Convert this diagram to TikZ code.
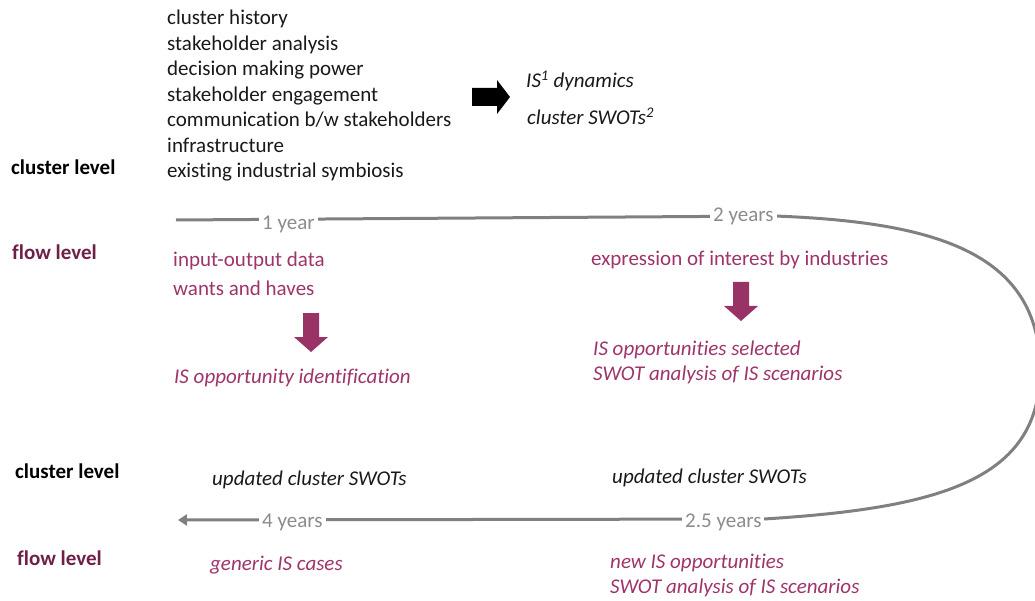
\documentclass[tikz,border=0pt]{standalone}
\usepackage{fontspec}
\setmainfont{Carlito}[Ligatures=CommonOff]
\usetikzlibrary{arrows.meta}

\definecolor{plum}{RGB}{158,52,106}
\definecolor{plumdark}{RGB}{110,32,72}
\definecolor{plumarrow}{RGB}{153,51,102}
\definecolor{linegray}{RGB}{128,128,128}
\definecolor{labelgray}{RGB}{140,140,140}

\tikzset{
  txt/.style={anchor=base west, inner sep=0pt, font=\fontsize{21}{25}\selectfont, text=black!90},
  plumtxt/.style={txt, text=plum},
  itxt/.style={txt, font=\fontsize{21}{25}\selectfont\itshape},
  iplum/.style={itxt, text=plum},
  levelclu/.style={txt, font=\fontsize{21}{25}\selectfont\bfseries, text=black},
  levelflow/.style={txt, font=\fontsize{21}{25}\selectfont\bfseries, text=plumdark},
  timelabel/.style={anchor=base west, fill=white, inner xsep=3pt, inner ysep=2pt,
    font=\fontsize{21}{25}\selectfont, text=labelgray},
  timeline/.style={draw=linegray, line width=3pt},
  downblock/.pic={
    \fill[plumarrow] (-8,0) -- (8,0) -- (8,24) -- (17,24) -- (0,39) -- (-17,24) -- (-8,24) -- cycle;
  }
}

\begin{document}
\begin{tikzpicture}[x=1pt, y=-1pt]
\useasboundingbox (0,0) rectangle (1035,601);

% cluster-level factors
\node[txt] (f1) at (167,25)  {cluster history};
\node[txt] (f2) at (167,50.5) {stakeholder analysis};
\node[txt] (f3) at (167,76)  {decision making power};
\node[txt] (f4) at (167,101.5) {stakeholder engagement};
\node[txt] (f5) at (167,127) {communication b/w stakeholders};
\node[txt] (f6) at (167,152.5) {infrastructure};
\node[txt] (f7) at (167,178) {existing industrial symbiosis};

% black block arrow towards the outcomes
\fill[black] (472,88) -- (497,88) -- (497,80) -- (510,97) -- (497,114) -- (497,106) -- (472,106) -- cycle;
\node[itxt] (o1) at (526,88)  {IS\textsuperscript{1} dynamics};
\node[itxt] (o2) at (527,125) {cluster SWOTs\textsuperscript{2}};

% level labels
\node[levelclu]  (cl1) at (11,175) {cluster level};
\node[levelflow] (fl1) at (12,260) {flow level};
\node[levelclu]  (cl2) at (15,478) {cluster level};
\node[levelflow] (fl2) at (17,565) {flow level};

% time line
\coordinate (t0) at (176,220);
\coordinate (tA) at (775,216);
\coordinate (tB) at (764,519);
\coordinate (tZ) at (178,520);
\draw[timeline, -{Triangle[length=9pt, width=11pt]}]
  (t0) -- (tA)
  .. controls (930,222) and (1040,250) .. (1040,370)
  .. controls (1040,480) and (940,508) .. (tB) -- (tZ);

\node[timelabel] (y1)  at (259,230) {1 year};
\node[timelabel] (y2)  at (710,222) {2 years};
\node[timelabel] (y25) at (682,527) {2.5 years};
\node[timelabel] (y4)  at (259,527) {4 years};

% first flow-level block
\node[plumtxt] (a1) at (173,267) {input-output data};
\node[plumtxt] (a2) at (173,296) {wants and haves};
\pic at (311,313) {downblock};
\node[iplum] (a3) at (174,383) {IS opportunity identification};

% second flow-level block
\node[plumtxt] (b1) at (591,266) {expression of interest by industries};
\pic at (741,282) {downblock};
\node[iplum] (b2) at (593,355) {IS opportunities selected};
\node[iplum] (b3) at (593,380) {SWOT analysis of IS scenarios};

% later stages
\node[itxt] (c1) at (212,485) {updated cluster SWOTs};
\node[itxt] (c2) at (612,483) {updated cluster SWOTs};
\node[iplum] (d1) at (210,570) {generic IS cases};
\node[iplum] (d2) at (610,568) {new IS opportunities};
\node[iplum] (d3) at (610,593) {SWOT analysis of IS scenarios};
\end{tikzpicture}
\end{document}
